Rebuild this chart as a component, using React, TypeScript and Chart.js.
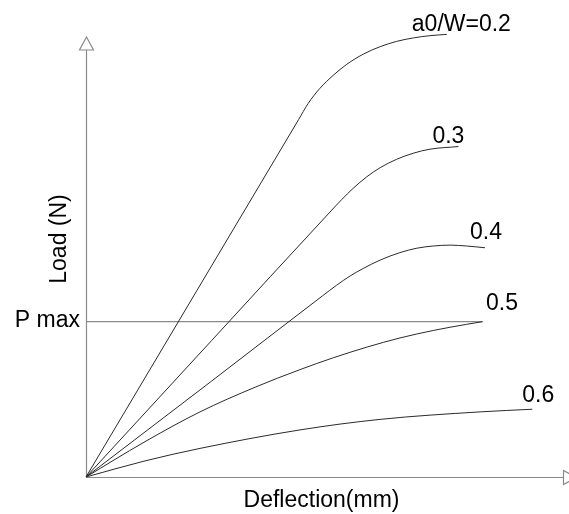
import React, { useEffect, useRef } from "react";
import { Chart, registerables } from "chart.js";

Chart.register(...registerables);

// ---- Data (deflection in mm, load in N) ----
const seriesNames = ["a0/W=0.2", "0.3", "0.4", "0.5", "0.6"];

const deflection02 = [0, 2.3, 4.4, 4.6, 4.84, 5.12, 5.4, 5.74, 6.09, 6.43, 6.78, 7.12, 7.47];
const load02 = [0, 4.245, 8.12, 8.49, 8.83, 9.13, 9.38, 9.61, 9.78, 9.9, 9.98, 10.03, 10.06];

const deflection03 = [0, 2.6, 5.05, 5.29, 5.53, 5.81, 6.09, 6.43, 6.78, 7.12, 7.71];
const load03 = [0, 3.1, 6.02, 6.3, 6.56, 6.82, 7.03, 7.22, 7.36, 7.45, 7.51];

const deflection04 = [0, 2.6, 4.9, 5.19, 5.47, 5.74, 6.09, 6.5, 6.85, 7.19, 7.54, 7.88, 8.26];
const load04 = [0, 2.18, 4.12, 4.36, 4.57, 4.74, 4.93, 5.1, 5.2, 5.25, 5.27, 5.25, 5.21];

const deflection05 = [0, 1.2, 2.36, 3.5, 4.43, 5.12, 5.81, 6.5, 7.19, 7.88, 8.21];
const load05 = [0, 0.79, 1.48, 2.04, 2.44, 2.71, 2.95, 3.16, 3.33, 3.47, 3.53];

const deflection06 = [0, 1.2, 2.36, 4.43, 6.09, 8.16, 9.24];
const load06 = [0, 0.36, 0.65, 1.07, 1.31, 1.48, 1.54];

const pMax = 3.53;
const pMaxDeflectionEnd = 8.21;

const xAxisTitle = "Deflection(mm)";
const yAxisTitle = "Load (N)";
const pMaxLabel = "P max";

const X_MAX = 10;
const Y_MAX = 10.5;
const Y_ARROW_TIP = 10;
const X_ARROW_BASE = 9.88;

const allDeflections = [deflection02, deflection03, deflection04, deflection05, deflection06];
const allLoads = [load02, load03, load04, load05, load06];

// label offsets (pixels) from each curve end: [dx to left edge, dy to baseline]
const labelOffsets: [number, number][] = [
  [-35, -3],
  [-26, -4],
  [-15, -8.5],
  [3.5, -11.7],
  [-10, -7.5],
];

const FONT = '23px "Liberation Sans", Arial, sans-serif';
const AXIS_COLOR = "#8a8a8a";
const LINE_COLOR = "#2a2a2a";

const decorPlugin = {
  id: "decor",
  beforeDatasetsDraw(chart: any) {
    const ctx = chart.ctx;
    const xs = chart.scales.x;
    const ys = chart.scales.y;
    const ox = Math.round(xs.getPixelForValue(0)) + 0.5;
    const oy = Math.round(ys.getPixelForValue(0)) + 0.5;
    const yTip = ys.getPixelForValue(Y_ARROW_TIP);
    const xBase = Math.round(xs.getPixelForValue(X_ARROW_BASE)) + 0.5;
    const aLen = 13;
    const aHalf = 7;
    ctx.save();
    ctx.strokeStyle = AXIS_COLOR;
    ctx.lineWidth = 1.2;
    // y axis
    ctx.beginPath();
    ctx.moveTo(ox, oy);
    ctx.lineTo(ox, yTip + aLen);
    ctx.stroke();
    ctx.beginPath();
    ctx.moveTo(ox, yTip);
    ctx.lineTo(ox - aHalf, yTip + aLen);
    ctx.lineTo(ox + aHalf, yTip + aLen);
    ctx.closePath();
    ctx.fillStyle = "#fff";
    ctx.fill();
    ctx.stroke();
    // x axis
    ctx.beginPath();
    ctx.moveTo(ox, oy);
    ctx.lineTo(xBase, oy);
    ctx.stroke();
    ctx.beginPath();
    ctx.moveTo(xBase + aLen, oy);
    ctx.lineTo(xBase, oy - aHalf);
    ctx.lineTo(xBase, oy + aHalf);
    ctx.closePath();
    ctx.fill();
    ctx.stroke();
    ctx.restore();
  },
  afterDraw(chart: any) {
    const ctx = chart.ctx;
    const xs = chart.scales.x;
    const ys = chart.scales.y;
    ctx.save();
    ctx.fillStyle = "#000";
    ctx.font = FONT;
    ctx.textBaseline = "alphabetic";
    // series labels
    seriesNames.forEach((name, i) => {
      const dx = allDeflections[i];
      const ld = allLoads[i];
      const ex = xs.getPixelForValue(dx[dx.length - 1]);
      const ey = ys.getPixelForValue(ld[ld.length - 1]);
      ctx.textAlign = "left";
      ctx.fillText(name, ex + labelOffsets[i][0], ey + labelOffsets[i][1]);
    });
    // P max label
    const py = ys.getPixelForValue(pMax);
    const ox = xs.getPixelForValue(0);
    ctx.textAlign = "right";
    ctx.fillText(pMaxLabel, ox - 6, py + 5);
    // x axis title
    ctx.textAlign = "center";
    ctx.fillText(xAxisTitle, 321.5, 507);
    // y axis title
    ctx.save();
    ctx.translate(66, 239);
    ctx.rotate(-Math.PI / 2);
    ctx.textAlign = "center";
    ctx.fillText(yAxisTitle, 0, 0);
    ctx.restore();
    ctx.restore();
  },
};

export default function App() {
  const ref = useRef<HTMLCanvasElement>(null);
  useEffect(() => {
    if (!ref.current) return;
    const datasets: any[] = allDeflections.map((dx, i) => ({
      label: seriesNames[i],
      data: dx.map((x, j) => ({ x, y: allLoads[i][j] })),
      showLine: true,
      borderColor: LINE_COLOR,
      borderWidth: 1,
      pointRadius: 0,
      cubicInterpolationMode: "monotone",
      fill: false,
      clip: false,
    }));
    datasets.push({
      label: pMaxLabel,
      data: [
        { x: 0, y: pMax },
        { x: pMaxDeflectionEnd, y: pMax },
      ],
      showLine: true,
      borderColor: AXIS_COLOR,
      borderWidth: 1.2,
      pointRadius: 0,
      fill: false,
      clip: false,
    });
    const chart = new Chart(ref.current, {
      type: "scatter",
      data: { datasets },
      options: {
        animation: false,
        responsive: false,
        layout: { padding: { left: 86, top: 15, right: 0, bottom: 37 } },
        plugins: { legend: { display: false }, tooltip: { enabled: false } },
        scales: {
          x: { type: "linear", min: 0, max: X_MAX, display: false },
          y: { type: "linear", min: 0, max: Y_MAX, display: false },
        },
      },
      plugins: [decorPlugin],
    });
    return () => chart.destroy();
  }, []);
  return (
    <div style={{ position: "absolute", left: 0, top: 0, width: 569, height: 514, background: "#fff" }}>
      <canvas ref={ref} width={569} height={514} style={{ display: "block" }} />
    </div>
  );
}
